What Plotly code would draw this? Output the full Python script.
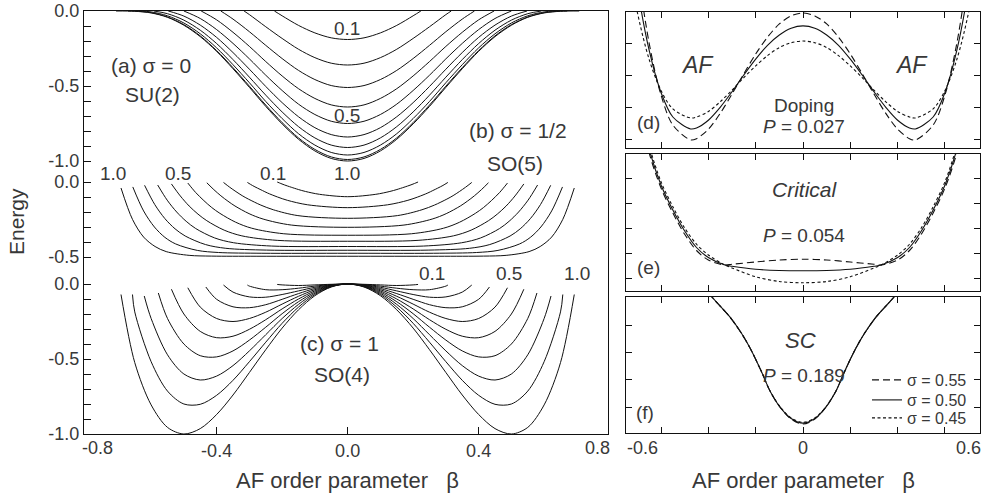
import plotly.graph_objects as go

W, H = 983, 499

# ---------------- data (half curves, beta >= 0; curves are symmetric) ----------------
P_LABELS = [0.1, 0.2, 0.3, 0.4, 0.5, 0.6, 0.7, 0.8, 0.9, 1.0]

# (a) sigma = 0, SU(2)
A_BETA = [
    [0, 0.05, 0.1, 0.15, 0.2, 0.2236],
    [0, 0.05, 0.1, 0.15, 0.2, 0.25, 0.3, 0.3162],
    [0, 0.05, 0.1, 0.15, 0.2, 0.25, 0.3, 0.35, 0.3873],
    [0, 0.05, 0.1, 0.15, 0.2, 0.25, 0.3, 0.35, 0.4, 0.4472],
    [0, 0.05, 0.1, 0.15, 0.2, 0.25, 0.3, 0.35, 0.4, 0.45, 0.5],
    [0, 0.05, 0.1, 0.15, 0.2, 0.25, 0.3, 0.35, 0.4, 0.45, 0.5, 0.5477],
    [0, 0.05, 0.1, 0.15, 0.2, 0.25, 0.3, 0.35, 0.4, 0.45, 0.5, 0.55, 0.5916],
    [0, 0.05, 0.1, 0.15, 0.2, 0.25, 0.3, 0.35, 0.4, 0.45, 0.5, 0.55, 0.6, 0.6325],
    [0, 0.05, 0.1, 0.15, 0.2, 0.25, 0.3, 0.35, 0.4, 0.45, 0.5, 0.55, 0.6, 0.65, 0.6708],
    [0, 0.05, 0.1, 0.15, 0.2, 0.25, 0.3, 0.35, 0.4, 0.45, 0.5, 0.55, 0.6, 0.65, 0.7071],
]
A_E = [
    [-0.19, -0.179, -0.146, -0.096, -0.032, 0],
    [-0.36, -0.348, -0.311, -0.255, -0.183, -0.105, -0.024, 0],
    [-0.51, -0.497, -0.457, -0.396, -0.317, -0.229, -0.138, -0.054, 0],
    [-0.64, -0.626, -0.583, -0.518, -0.433, -0.337, -0.236, -0.142, -0.059, 0],
    [-0.75, -0.735, -0.69, -0.621, -0.53, -0.428, -0.319, -0.216, -0.124, -0.05, 0],
    [-0.84, -0.824, -0.778, -0.705, -0.611, -0.503, -0.388, -0.277, -0.176, -0.094, -0.034, 0],
    [-0.91, -0.894, -0.846, -0.771, -0.673, -0.561, -0.441, -0.324, -0.217, -0.128, -0.061, -0.018, 0],
    [-0.96, -0.943, -0.894, -0.818, -0.717, -0.603, -0.478, -0.358, -0.246, -0.152, -0.08, -0.032, -0.006, 0],
    [-0.99, -0.973, -0.923, -0.846, -0.744, -0.627, -0.501, -0.378, -0.264, -0.166, -0.091, -0.04, -0.011, -0.001, 0],
    [-1.0, -0.983, -0.933, -0.855, -0.753, -0.636, -0.509, -0.385, -0.269, -0.171, -0.095, -0.042, -0.013, -0.002, 0],
]

# (b) sigma = 1/2, SO(5)
B_BETA = [
    [0, 0.086, 0.129, 0.1505, 0.172, 0.183, 0.1935, 0.204, 0.215],
    [0, 0.122, 0.184, 0.214, 0.245, 0.26, 0.275, 0.291, 0.306],
    [0, 0.152, 0.227, 0.265, 0.303, 0.322, 0.341, 0.36, 0.379],
    [0, 0.172, 0.258, 0.301, 0.344, 0.3655, 0.387, 0.4085, 0.43],
    [0, 0.195, 0.293, 0.342, 0.39, 0.415, 0.439, 0.464, 0.488],
    [0, 0.215, 0.323, 0.377, 0.43, 0.457, 0.484, 0.511, 0.538],
    [0, 0.232, 0.348, 0.406, 0.464, 0.493, 0.522, 0.551, 0.58],
    [0, 0.248, 0.372, 0.434, 0.496, 0.527, 0.558, 0.589, 0.62],
    [0, 0.262, 0.394, 0.459, 0.525, 0.558, 0.59, 0.623, 0.656],
    [0, 0.277, 0.415, 0.484, 0.554, 0.588, 0.623, 0.657, 0.692],
]
B_E = [
    [-0.098, -0.082, -0.063, -0.05, -0.035, -0.027, -0.019, -0.01, 0.0],
    [-0.171, -0.152, -0.122, -0.1, -0.073, -0.057, -0.041, -0.023, -0.003],
    [-0.242, -0.224, -0.185, -0.154, -0.114, -0.091, -0.064, -0.035, -0.003],
    [-0.302, -0.287, -0.247, -0.211, -0.16, -0.128, -0.092, -0.051, -0.005],
    [-0.355, -0.345, -0.308, -0.268, -0.209, -0.17, -0.124, -0.07, -0.007],
    [-0.395, -0.389, -0.359, -0.321, -0.258, -0.214, -0.16, -0.093, -0.013],
    [-0.43, -0.427, -0.405, -0.373, -0.31, -0.262, -0.2, -0.121, -0.02],
    [-0.455, -0.454, -0.442, -0.417, -0.36, -0.312, -0.244, -0.15, -0.022],
    [-0.475, -0.475, -0.47, -0.456, -0.413, -0.369, -0.3, -0.193, -0.033],
    [-0.495, -0.495, -0.494, -0.489, -0.464, -0.43, -0.367, -0.249, -0.04],
]

# (c) sigma = 1, SO(4)
C_BETA = [
    [0, 0.05, 0.1, 0.15, 0.2, 0.215],
    [0, 0.05, 0.1, 0.15, 0.2, 0.25, 0.3, 0.306],
    [0, 0.05, 0.1, 0.15, 0.2, 0.25, 0.3, 0.35, 0.379],
    [0, 0.05, 0.1, 0.15, 0.2, 0.25, 0.3, 0.35, 0.4, 0.433],
    [0, 0.05, 0.1, 0.15, 0.2, 0.25, 0.3, 0.35, 0.4, 0.45, 0.488],
    [0, 0.05, 0.1, 0.15, 0.2, 0.25, 0.3, 0.35, 0.4, 0.45, 0.5, 0.538],
    [0, 0.05, 0.1, 0.15, 0.2, 0.25, 0.3, 0.35, 0.4, 0.45, 0.5, 0.55, 0.578],
    [0, 0.05, 0.1, 0.15, 0.2, 0.25, 0.3, 0.35, 0.4, 0.45, 0.5, 0.55, 0.6, 0.621],
    [0, 0.05, 0.1, 0.15, 0.2, 0.25, 0.3, 0.35, 0.4, 0.45, 0.5, 0.55, 0.6, 0.65, 0.657],
    [0, 0.05, 0.1, 0.15, 0.2, 0.25, 0.3, 0.35, 0.4, 0.45, 0.5, 0.55, 0.6, 0.65, 0.692],
]
C_E = [
    [0, -0.002, -0.006, -0.01, -0.006, -0.003],
    [0, -0.004, -0.014, -0.028, -0.038, -0.038, -0.014, -0.007],
    [0, -0.006, -0.022, -0.046, -0.07, -0.088, -0.086, -0.054, -0.007],
    [0, -0.008, -0.03, -0.064, -0.102, -0.138, -0.158, -0.152, -0.102, -0.02],
    [0, -0.01, -0.038, -0.082, -0.134, -0.188, -0.23, -0.25, -0.23, -0.154, -0.025],
    [0, -0.012, -0.046, -0.1, -0.166, -0.238, -0.302, -0.348, -0.358, -0.316, -0.2, -0.035],
    [0, -0.014, -0.054, -0.118, -0.198, -0.288, -0.374, -0.446, -0.486, -0.478, -0.4, -0.23, -0.06],
    [0, -0.016, -0.062, -0.136, -0.23, -0.338, -0.446, -0.544, -0.614, -0.64, -0.6, -0.472, -0.23, -0.08],
    [0, -0.018, -0.07, -0.154, -0.262, -0.388, -0.518, -0.642, -0.742, -0.802, -0.8, -0.714, -0.518, -0.186, -0.07],
    [0, -0.02, -0.078, -0.172, -0.294, -0.438, -0.59, -0.74, -0.87, -0.964, -1.0, -0.956, -0.806, -0.524, -0.07],
]

# right panels (energy in tick units), sigma = 0.55 / 0.50 / 0.45
SIGMA_NAMES = ["σ = 0.55", "σ = 0.50", "σ = 0.45"]

D_BETA = [0, 0.05, 0.1, 0.15, 0.2, 0.25, 0.3, 0.35, 0.4, 0.45, 0.475, 0.55, 0.6, 0.65, 0.7, 0.75]
D_E_055 = [3.93, 3.84, 3.59, 3.18, 2.66, 2.05, 1.42, 0.82, 0.33, 0.04, 0.0, 0.46, 1.39, 2.99, 5.4, 8.76]
D_E_050 = [3.53, 3.46, 3.25, 2.93, 2.5, 2.01, 1.49, 1.01, 0.61, 0.37, 0.34, 0.71, 1.47, 2.77, 4.72, 7.46]
D_E_045 = [3.06, 3.01, 2.86, 2.61, 2.29, 1.93, 1.54, 1.18, 0.88, 0.71, 0.68, 0.96, 1.53, 2.49, 3.95, 5.99]

E_BETA = [0, 0.1, 0.2, 0.3, 0.33, 0.4, 0.45, 0.5, 0.55, 0.6, 0.65, 0.7]
E_E_055 = [0.75, 0.72, 0.64, 0.55, 0.52, 0.72, 1.1, 1.75, 2.6, 3.6, 5.0, 7.2]
E_E_050 = [0.29, 0.3, 0.35, 0.47, 0.52, 0.82, 1.22, 1.88, 2.72, 3.72, 5.15, 7.35]
E_E_045 = [-0.19, -0.14, 0.05, 0.4, 0.52, 0.92, 1.35, 2.0, 2.85, 3.85, 5.3, 7.5]

F_BETA = [0, 0.05, 0.097, 0.14, 0.173, 0.22, 0.26, 0.309, 0.35, 0.385, 0.42, 0.46]
F_E_055 = [-0.62, -0.44, 0.0, 0.6, 1.25, 2.1, 2.7, 3.3, 3.7, 4.03, 4.4, 4.8]
F_E_050 = [-0.59, -0.42, 0.0, 0.6, 1.25, 2.1, 2.7, 3.3, 3.7, 4.03, 4.4, 4.8]
F_E_045 = [-0.56, -0.40, 0.01, 0.6, 1.25, 2.1, 2.7, 3.3, 3.7, 4.03, 4.4, 4.8]

# ---------------- layout constants ----------------
PANEL_OFFSET = {"a": 0.0, "b": -1.14, "c": -1.82}
INK = "#111111"
TXT = "#383838"
FONT = "Liberation Sans, Arial, Helvetica, sans-serif"


def px(x):
    return x / W


def py(y):
    return 1 - y / H


def mirror(beta, e):
    xs = [-b for b in beta[::-1]] + list(beta[1:])
    ys = list(e[::-1]) + list(e[1:])
    return xs, ys


fig = go.Figure()

for key, betas, energies in (("a", A_BETA, A_E), ("b", B_BETA, B_E), ("c", C_BETA, C_E)):
    off = PANEL_OFFSET[key]
    for b, e in zip(betas, energies):
        xs, ys = mirror(b, e)
        fig.add_trace(go.Scatter(
            x=xs, y=[v + off for v in ys], mode="lines",
            line=dict(color=INK, width=1, shape="spline", smoothing=0.9),
            showlegend=False, hoverinfo="skip", xaxis="x", yaxis="y"))

DASHES = ["7px,4px", "solid", "3px,2.5px"]
LEGENDS = ["legend", "legend2", "legend3"]
for i, (beta, series, ax) in enumerate((
        (D_BETA, (D_E_055, D_E_050, D_E_045), "2"),
        (E_BETA, (E_E_055, E_E_050, E_E_045), "3"),
        (F_BETA, (F_E_055, F_E_050, F_E_045), "4"))):
    for j, e in enumerate(series):
        xs, ys = mirror(beta, e)
        fig.add_trace(go.Scatter(
            x=xs, y=ys, mode="lines", name=SIGMA_NAMES[j], legend=LEGENDS[j],
            line=dict(color=INK, width=1.1, dash=DASHES[j], shape="spline", smoothing=0.9),
            showlegend=(ax == "4"), hoverinfo="skip",
            xaxis="x" + ax, yaxis="y" + ax))

# left y ticks (three stacked sub-panels sharing one box)
ytv, ytt = [], []
for k in range(11):
    ytv.append(-0.1 * k)
    ytt.append({0: "0.0", 5: "-0.5", 10: "-1.0"}.get(k, ""))
for k in range(6):
    ytv.append(PANEL_OFFSET["b"] - 0.1 * k)
    ytt.append({0: "0.0", 5: "-0.5"}.get(k, ""))
for k in range(11):
    ytv.append(PANEL_OFFSET["c"] - 0.1 * k)
    ytt.append({0: "0.0", 5: "-0.5", 10: "-1.0"}.get(k, ""))

axis_common = dict(showgrid=False, zeroline=False, showline=True, linecolor=INK, automargin=False,
                   linewidth=1.3, ticks="inside", tickcolor=INK, ticklen=7, tickwidth=1)

leg_common = dict(x=px(867), xanchor="left", yanchor="middle", bgcolor="rgba(0,0,0,0)",
                  font=dict(size=16, color=TXT, family=FONT), itemwidth=30, borderwidth=0)

layout = dict(
    width=W, height=H, margin=dict(l=0, r=0, t=0, b=0, pad=0, autoexpand=False),
    paper_bgcolor="white", plot_bgcolor="white",
    font=dict(family=FONT, color=TXT, size=18),
    xaxis=dict(domain=[px(84), px(608)], range=[-0.805, 0.795], anchor="y", mirror=True,
               tickvals=[-0.4, 0.0, 0.4], ticktext=["-0.4", "0.0", "0.4"],
               tickfont=dict(size=18, color=TXT), **axis_common),
    yaxis=dict(domain=[py(434), py(11)], range=[-2.82, 0.0], anchor="x", mirror=True,
               tickvals=ytv, ticktext=ytt, ticklabeloverflow="allow",
               tickfont=dict(size=18, color=TXT), **axis_common),
    showlegend=True,
    legend=dict(y=py(380), **leg_common),
    legend2=dict(y=py(400), **leg_common),
    legend3=dict(y=py(418), **leg_common),
)
right_x = dict(domain=[px(626), px(980)], range=[-0.748, 0.748], mirror="ticks",
               tickvals=[-0.6, -0.4, -0.2, 0.0, 0.2, 0.4, 0.6], showticklabels=False)
right_y = [
    ("2", [py(148), py(12)], [-0.25, 3.96], [0, 1, 2, 3]),
    ("3", [py(291), py(154)], [-0.52, 4.96], [0, 1, 2, 3, 4]),
    ("4", [py(433), py(297)], [-0.95, 4.03], [0, 1, 2, 3]),
]
for ax, dom, rng, tv in right_y:
    rc = dict(axis_common)
    rc["ticklen"] = 6
    layout["xaxis" + ax] = dict(anchor="y" + ax, **right_x, **rc)
    layout["yaxis" + ax] = dict(anchor="x" + ax, domain=dom, range=rng, tickvals=tv,
                               showticklabels=False, mirror="ticks", **rc)
fig.update_layout(**layout)


def note(text, x, y, size=19, angle=0, color=TXT):
    fig.add_annotation(text=text, x=px(x), y=py(y), xref="paper", yref="paper",
                       showarrow=False, xanchor="center", yanchor="middle",
                       textangle=angle, font=dict(size=size, color=color, family=FONT))


# left panel texts
note("(a) σ = 0", 151, 65, 21)
note("SU(2)", 152, 95, 21)
note("0.1", 347, 29)
note("0.5", 347, 115)
note("(b) σ = 1/2", 518, 131, 21)
note("SO(5)", 515, 163, 21)
note("1.0", 113, 173)
note("0.5", 178, 173)
note("0.1", 273, 173)
note("1.0", 347, 173)
note("0.1", 432, 273)
note("0.5", 509, 273)
note("1.0", 577, 273)
note("(c) σ = 1", 339, 343, 21)
note("SO(4)", 342, 374, 21)
note("Energy", 16, 222, 21, angle=-90)
note("-0.8", 97, 448, 18)
note("0.8", 597, 448, 18)
note("AF order parameter\u00a0\u00a0\u00a0β", 347, 480, 22)

# right panel texts
note("<i>AF</i>", 697, 65, 23)
note("<i>AF</i>", 911, 65, 23)
note("Doping", 804, 105, 19)
note("<i>P</i> = 0.027", 804, 127, 19)
note("(d)", 648, 122, 19)
note("<i>Critical</i>", 805, 190, 21)
note("<i>P</i> = 0.054", 804, 235, 19)
note("(e)", 648, 267, 19)
note("<i>SC</i>", 800, 340, 22)
note("<i>P</i> = 0.189", 804, 375, 19)
note("(f)", 645, 412, 19)
note("-0.6", 642, 448, 18)
note("0", 803, 448, 18)
note("0.6", 968, 448, 18)
note("AF order parameter\u00a0\u00a0\u00a0β", 803, 480, 22)

# the page itself should add no margin around the 983x499 figure
fig.write_html("out.html", config={"displayModeBar": False},
               post_script="document.body.style.margin='0';")
